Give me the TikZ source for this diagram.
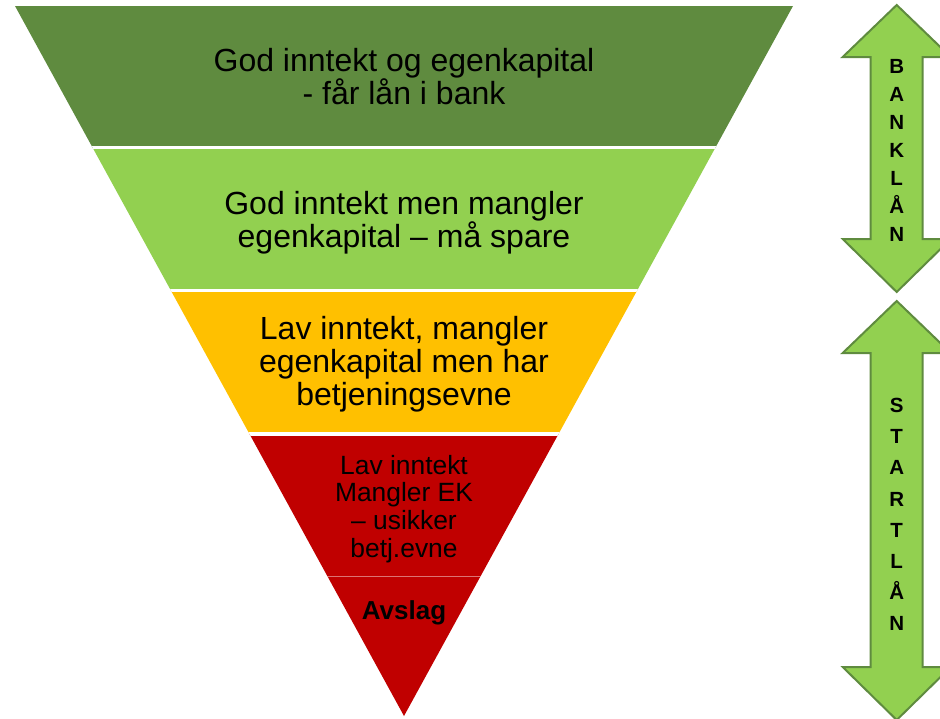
\documentclass[tikz,border=0pt]{standalone}
\usepackage{fontspec}
\setmainfont{Liberation Sans}
\definecolor{bankgreen}{HTML}{5F8B3F}
\definecolor{lightgreen}{HTML}{92D050}
\definecolor{ambergold}{HTML}{FFC000}
\definecolor{rejectred}{HTML}{C00000}
\begin{document}
\begin{tikzpicture}[x=1pt,y=-1pt,line join=miter,
  bandtext/.style={align=center,inner sep=0pt,font=\fontsize{32}{33}\selectfont},
  smalltext/.style={align=center,inner sep=0pt,font=\fontsize{26.4}{27.8}\selectfont},
  loanarrow/.style={fill=lightgreen,draw=bankgreen,line width=2pt},
  gap/.style={draw=white,line width=3.5pt},
]
  \useasboundingbox (0,0) rectangle (940,718);
  \clip (0,0) rectangle (940,718);
%%
  % Funnel: bands clipped by the triangle
\begin{scope}
  \clip (15,6) -- (793,6) -- (404,716) -- cycle;
  \fill[bankgreen] (0,0) rectangle (940,148);
  \fill[lightgreen] (0,148) rectangle (940,291);
  \fill[ambergold] (0,291) rectangle (940,434);
  \fill[rejectred] (0,434) rectangle (940,718);
  % Band gaps
  \draw[gap] (0,147.5) -- (940,147.5);
  \draw[gap] (0,290.7) -- (940,290.7);
  \draw[gap] (0,434) -- (940,434);
  \draw[white,opacity=.45,line width=.8pt] (0,576) -- (940,576);
\end{scope}
  % Node: band texts
  \node[bandtext] (godbank) at (404,77) {God inntekt og egenkapital\\- får lån i bank};
  \node[bandtext] (godspare) at (404,222.5) {God inntekt men mangler\\egenkapital -- må spare};
  \node[bandtext] (lavbetj) at (404,364.5) {Lav inntekt, mangler\\egenkapital men har\\betjeningsevne};
  \node[smalltext] (lavusikker) at (404,509) {Lav inntekt\\Mangler EK\\-- usikker\\betj.evne};
  \node[smalltext,font=\bfseries\fontsize{26}{27}\selectfont] (avslag) at (404,612.5) {Avslag};
  % Arrow: Banklån
  \draw[loanarrow] (896.7,5) -- (950.7,57) -- (922.7,57) -- (922.7,239) -- (950.7,239)
    -- (896.7,292) -- (842.7,239) -- (870.7,239) -- (870.7,57) -- (842.7,57) -- cycle;
  \node[align=center,inner sep=0pt,font=\bfseries\fontsize{20.5}{28}\selectfont] (banklan)
    at (896.7,150.5) {B\\A\\N\\K\\L\\Å\\N};
  % Arrow: Startlån
  \draw[loanarrow] (896.7,301) -- (950.7,353) -- (922.7,353) -- (922.7,667) -- (950.7,667)
    -- (896.7,720) -- (842.7,667) -- (870.7,667) -- (870.7,353) -- (842.7,353) -- cycle;
  \node[align=center,inner sep=0pt,font=\bfseries\fontsize{20.5}{31.2}\selectfont] (startlan)
    at (896.7,514.5) {S\\T\\A\\R\\T\\L\\Å\\N};
%
\end{tikzpicture}
\end{document}
